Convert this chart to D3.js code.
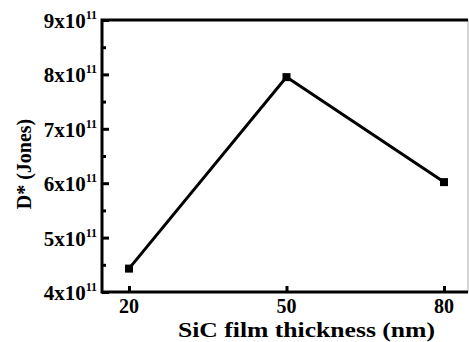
<!DOCTYPE html>
<html>
<head>
<meta charset="utf-8">
<script src="https://cdn.jsdelivr.net/npm/d3@7"></script>
<style>
  body { margin: 0; background: #fff; }
  text { font-family: "Liberation Serif", "Times New Roman", serif; font-weight: bold; fill: #000; }
</style>
</head>
<body>
<svg id="chart"></svg>
<script>
// SiC film thickness vs detectivity
var thickness = [20, 50, 80];
var detectivity = [4.43e11, 7.95e11, 6.02e11];
var xTicks = [20, 50, 80];
var yTicks = [4e11, 5e11, 6e11, 7e11, 8e11, 9e11];
var yMinor = [4.5e11, 5.5e11, 6.5e11, 7.5e11, 8.5e11];

var width = 469, height = 342;
var pLeft = 102, pRight = 468, pTop = 20, pBottom = 292;

var svg = d3.select('#chart')
    .attr('width', width)
    .attr('height', height);

var x = d3.scaleLinear()
    .domain([20, 80])
    .range([129, 444]);

var y = d3.scaleLinear()
    .domain([4e11, 9e11])
    .range([pBottom, pTop]);

// inward ticks
var xAxis = d3.axisBottom(x).tickValues(xTicks).tickSize(-6).tickFormat('');
svg.append('g')
    .attr('transform', 'translate(0,' + pBottom + ')')
    .call(xAxis)
    .call(function(g) { g.select('.domain').remove(); })
    .selectAll('line').attr('stroke', '#000').attr('stroke-width', 3);

var yAxis = d3.axisLeft(y).tickValues(yTicks).tickSize(-7).tickFormat('');
svg.append('g')
    .attr('transform', 'translate(' + pLeft + ',0)')
    .call(yAxis)
    .call(function(g) { g.select('.domain').remove(); })
    .selectAll('line').attr('stroke', '#000').attr('stroke-width', 3);

var yAxisMinor = d3.axisLeft(y).tickValues(yMinor).tickSize(-4).tickFormat('');
svg.append('g')
    .attr('transform', 'translate(' + pLeft + ',0)')
    .call(yAxisMinor)
    .call(function(g) { g.select('.domain').remove(); })
    .selectAll('line').attr('stroke', '#000').attr('stroke-width', 3);

// frame
svg.append('line')
    .attr('x1', pRight).attr('x2', pRight).attr('y1', pTop).attr('y2', pBottom)
    .attr('stroke', '#aaa').attr('stroke-width', 1);
svg.append('path')
    .attr('d', 'M' + pRight + ',' + pTop + 'H' + pLeft + 'V' + pBottom + 'H' + pRight)
    .attr('fill', 'none')
    .attr('stroke', '#000')
    .attr('stroke-width', 3);

// x tick labels
svg.selectAll('.xlab')
    .data(xTicks)
    .enter().append('text')
    .attr('class', 'xlab')
    .attr('x', function(d) { return x(d); })
    .attr('y', 313)
    .attr('text-anchor', 'middle')
    .style('font-size', '20px')
    .text(function(d) { return d; });

// y tick labels, like 4x10^11
var ylab = svg.selectAll('.ylab')
    .data(yTicks)
    .enter().append('text')
    .attr('class', 'ylab')
    .attr('x', 97)
    .attr('y', function(d) { return y(d) + 8; })
    .attr('text-anchor', 'end');
ylab.append('tspan')
    .style('font-size', '21px')
    .text(function(d) { return Math.round(d / 1e11) + 'x10'; });
ylab.append('tspan')
    .attr('dy', -9)
    .style('font-size', '12px')
    .text('11');

// axis titles
svg.append('text')
    .attr('x', 178)
    .attr('y', 337)
    .attr('textLength', 257)
    .attr('lengthAdjust', 'spacingAndGlyphs')
    .style('font-size', '20px')
    .text('SiC film thickness (nm)');

svg.append('text')
    .attr('transform', 'translate(31,164) rotate(-90)')
    .attr('text-anchor', 'middle')
    .style('font-size', '20px')
    .text('D* (Jones)');

// data
var pts = thickness.map(function(t, i) { return [t, detectivity[i]]; });
var line = d3.line()
    .x(function(d) { return x(d[0]); })
    .y(function(d) { return y(d[1]); });

svg.append('path')
    .datum(pts)
    .attr('d', line)
    .attr('fill', 'none')
    .attr('stroke', '#000')
    .attr('stroke-width', 3);

svg.selectAll('.pt')
    .data(pts)
    .enter().append('rect')
    .attr('class', 'pt')
    .attr('x', function(d) { return x(d[0]) - 4; })
    .attr('y', function(d) { return y(d[1]) - 4; })
    .attr('width', 8)
    .attr('height', 8)
    .attr('fill', '#000');
</script>
</body>
</html>
